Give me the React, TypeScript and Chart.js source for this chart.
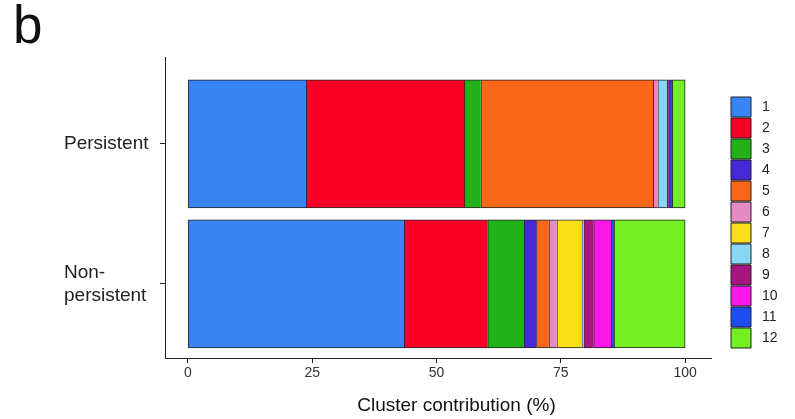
import React, { useEffect, useRef } from "react";
import { Chart, registerables } from "chart.js";

Chart.register(...registerables);

const clusterLabels = ["1", "2", "3", "4", "5", "6", "7", "8", "9", "10", "11", "12"];
const clusterColors = [
  "#3a85f4", "#f90026", "#21b21a", "#4529d6", "#fb671a", "#e48bc5",
  "#f9df18", "#89d6f4", "#a6167e", "#fb17e8", "#1d4cf0", "#73ef23",
];
const groupLabels: (string | string[])[] = ["Persistent", ["Non-", "persistent"]];
const groupPositions = [1, 2];
const persistentValues = [23.8, 31.8, 3.3, 0, 34.7, 0.9, 0, 1.8, 0.4, 0, 0.7, 2.6];
const nonPersistentValues = [43.5, 16.8, 7.3, 2.5, 2.5, 1.6, 5.0, 0.4, 2.0, 3.5, 0.6, 14.3];
const xTicks = [0, 25, 50, 75, 100];

const FONT = "'Liberation Sans', Arial, sans-serif";

export default function App() {
  const ref = useRef<HTMLCanvasElement | null>(null);

  useEffect(() => {
    if (!ref.current) return;
    const last = clusterLabels.length - 1;
    const datasets = clusterLabels.map((lab, i) => ({
      label: lab,
      stack: "all",
      data: [
        { x: persistentValues[i], y: groupPositions[0] },
        { x: nonPersistentValues[i], y: groupPositions[1] },
      ],
      backgroundColor: clusterColors[i],
      borderColor: "#222",
      borderWidth: { left: 1, top: 1, bottom: 1, right: i === last ? 1 : 0 },
      borderSkipped: false,
      barThickness: 128,
    }));

    const chart = new Chart(ref.current, {
      type: "bar",
      data: { datasets } as any,
      options: {
        indexAxis: "y",
        responsive: false,
        animation: false,
        layout: { padding: { left: 13, right: 15, top: 0, bottom: 0 } },
        plugins: {
          title: {
            display: true,
            text: "b",
            align: "start",
            color: "#111",
            font: { family: FONT, size: 53, weight: "normal", lineHeight: 1 },
            padding: { top: 2, bottom: 2 },
          },
          legend: {
            position: "right",
            align: "start",
            maxWidth: 50,
            title: {
              display: true,
              text: " ",
              font: { size: 10, lineHeight: 1 },
              padding: { top: 86, bottom: 0 },
            },
            labels: {
              boxWidth: 20,
              boxHeight: 20,
              padding: 1,
              color: "#222",
              font: { family: FONT, size: 14 },
              generateLabels: (c: any) =>
                Chart.defaults.plugins.legend.labels
                  .generateLabels(c)
                  .map((it: any) => ({ ...it, text: " " + it.text, lineWidth: 1, strokeStyle: "#222" })),
            },
          },
          tooltip: { enabled: false },
        },
        scales: {
          x: {
            type: "linear",
            stacked: true,
            min: -4.6,
            max: 105.2,
            afterBuildTicks: (s: any) => {
              s.ticks = xTicks.map((v) => ({ value: v }));
            },
            afterFit: (s: any) => {
              s.height = 61;
            },
            ticks: { color: "#333", font: { family: FONT, size: 14 }, padding: 2 },
            grid: { display: true, drawOnChartArea: false, drawTicks: true, tickLength: 5, color: "#222" },
            border: { display: true, color: "#222", width: 1 },
            title: {
              display: true,
              text: "       Cluster contribution (%)",
              color: "#111",
              font: { family: FONT, size: 19, lineHeight: 1 },
              padding: { top: 0, bottom: 4 },
            },
          },
          y: {
            type: "linear",
            reverse: true,
            offset: false,
            min: 0.379,
            max: 2.529,
            afterBuildTicks: (s: any) => {
              s.ticks = groupPositions.map((v) => ({ value: v }));
            },
            afterFit: (s: any) => {
              s.width = 101;
            },
            ticks: {
              color: "#222",
              crossAlign: "far",
              padding: 10,
              font: { family: FONT, size: 19, lineHeight: 1.2 },
              callback: (v: any) => {
                const idx = groupPositions.indexOf(Number(v));
                return idx >= 0 ? groupLabels[idx] : "";
              },
            },
            grid: { display: true, offset: false, drawOnChartArea: false, drawTicks: true, tickLength: 5, color: "#222" },
            border: { display: true, color: "#222", width: 1 },
          },
          spacerLeft: {
            type: "linear",
            position: "left",
            weight: 10,
            display: true,
            grid: { display: false },
            border: { display: false },
            ticks: { display: false },
            afterFit: (s: any) => {
              s.width = 51;
            },
          },
          spacerRight: {
            type: "linear",
            position: "right",
            display: true,
            grid: { display: false },
            border: { display: false },
            ticks: { display: false },
            afterFit: (s: any) => {
              s.width = 19;
            },
          },
        },
      } as any,
    });
    return () => chart.destroy();
  }, []);

  return (
    <div style={{ position: "absolute", left: 0, top: 0, width: 795, height: 419, background: "#fff" }}>
      <canvas ref={ref} width={795} height={419} style={{ display: "block" }} />
    </div>
  );
}
